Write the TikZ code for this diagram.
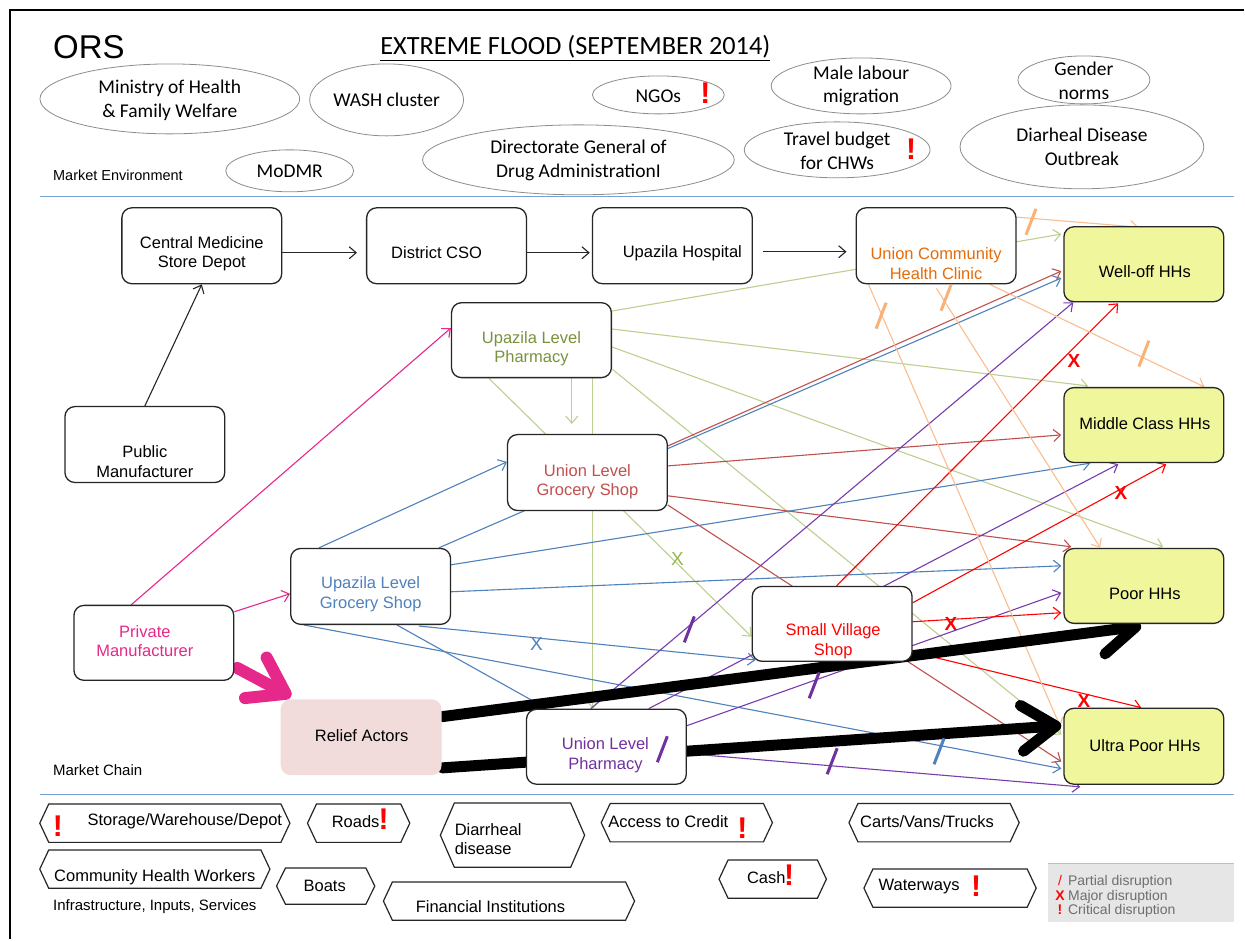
\documentclass[tikz,border=0pt]{standalone}
\usepackage{fontspec}
\setmainfont{Liberation Sans}
\newfontfamily\calfont{Carlito}
\usetikzlibrary{arrows.meta,shapes.geometric,calc}

\definecolor{pinkc}{RGB}{230,40,138}
\definecolor{bluec}{RGB}{79,129,189}
\definecolor{brickc}{RGB}{192,80,77}
\definecolor{greenl}{RGB}{188,208,145}
\definecolor{greent}{RGB}{119,147,60}
\definecolor{greenx}{RGB}{150,185,85}
\definecolor{orangel}{RGB}{250,190,145}
\definecolor{oranget}{RGB}{228,108,10}
\definecolor{orangem}{RGB}{248,178,120}
\definecolor{purplel}{RGB}{120,60,175}
\definecolor{purplet}{RGB}{112,48,160}
\definecolor{redc}{RGB}{255,0,0}
\definecolor{hhfill}{RGB}{239,246,155}
\definecolor{relieffill}{RGB}{242,220,219}
\definecolor{sepblue}{RGB}{120,160,210}
\definecolor{ellgray}{RGB}{140,140,140}
\definecolor{leggray}{RGB}{230,230,230}
\definecolor{legtext}{RGB}{110,110,110}

\pgfdeclarelayer{paper}
\pgfdeclarelayer{links}
\pgfsetlayers{paper,links,main}

% hexagonal frame around an invisible rectangular node
\newcommand\chevframe[2]{%
  \draw[line width=1.2pt, draw=black!85]
    (#1.west) -- ($(#1.north west)+(#2,0)$) -- ($(#1.north east)+(-#2,0)$)
    -- (#1.east) -- ($(#1.south east)+(-#2,0)$) -- ($(#1.south west)+(#2,0)$) -- cycle;}
% partial disruption stroke
\newcommand\slashmark[2]{%
  \draw[#1, line width=3pt] ($(#2)+(-5,13)$) -- ($(#2)+(5,-13)$);}

\begin{document}
\begin{tikzpicture}[x=1pt,y=-1pt,
  box/.style={draw=black!85, line width=1.3pt, rounded corners=10pt, fill=white,
    minimum width=160pt, minimum height=76pt, inner sep=0pt},
  hh/.style={box, fill=hhfill},
  btxt/.style={font=\fontsize{16.5}{19.5}\selectfont, align=center, inner sep=0pt},
  env/.style={ellipse, draw=ellgray, line width=0.8pt, inner sep=0pt},
  etxt/.style={font=\calfont\fontsize{19.5}{24}\selectfont, align=center, inner sep=0pt},
  frame/.style={inner sep=0pt, minimum height=38pt},
  conn/.style={line width=1.1pt, -{Straight Barb[length=7pt,width=12pt]}},
  bigarrow/.style={line width=11pt, line cap=round,
    -{Straight Barb[length=34pt,width=46pt,round]}},
  bang/.style={font=\bfseries\fontsize{30}{30}\selectfont, text=redc, inner sep=0pt},
  xmark/.style={font=\bfseries\fontsize{19}{19}\selectfont, inner sep=0pt},
  legtxt/.style={font=\fontsize{14}{14}\selectfont, text=legtext, inner sep=0pt, anchor=base west},
  legsym/.style={font=\bfseries\fontsize{14}{14}\selectfont, text=redc, inner sep=0pt, anchor=base}
]
\begin{pgfonlayer}{paper}
\useasboundingbox[fill=white] (0,0) rectangle (1245,940);
\end{pgfonlayer}

% outer frame and section separators
\draw[line width=2.5pt] (10,940) -- (10,10) -- (1245,10);
\draw[sepblue, line width=1.2pt] (40,197) -- (1235,197);
\draw[sepblue, line width=1.2pt] (40,795) -- (1235,795);

% titles
\node[anchor=base west, inner sep=0pt, font=\fontsize{33}{36}\selectfont] (ors) at (53,59) {ORS};
\node[anchor=base, inner sep=0pt, font=\calfont\fontsize{26.3}{30}\selectfont] (title) at (576,55)
  {\underline{EXTREME FLOOD (SEPTEMBER 2014)}};

% ---------------- market environment ----------------
\node[env, minimum width=260pt, minimum height=70pt] (moh) at (170,99) {};
\node[etxt] (t-moh) at (170,100) {Ministry of Health\\\& Family Welfare};
\node[env, minimum width=154pt, minimum height=72pt] (wash) at (387,100) {};
\node[etxt] (t-wash) at (387,100) {WASH cluster};
\node[env, minimum width=132pt, minimum height=38pt] (ngo) at (659,95) {};
\node[etxt] (t-ngo) at (659,96) {NGOs};
\node[bang] (b-ngo) at (706,93) {!};
\node[env, minimum width=180pt, minimum height=56pt] (male) at (862,86) {};
\node[etxt] (t-male) at (862,86) {Male labour\\migration};
\node[env, minimum width=132pt, minimum height=48pt] (gender) at (1085,80) {};
\node[etxt] (t-gender) at (1085,81) {Gender\\norms};
\node[env, minimum width=128pt, minimum height=42pt] (modmr) at (290,171) {};
\node[etxt] (t-modmr) at (290,171) {MoDMR};
\node[env, minimum width=312pt, minimum height=70pt] (dgda) at (579,160) {};
\node[etxt] (t-dgda) at (579,161) {Directorate General of\\Drug AdministrationI};
\node[env, minimum width=186pt, minimum height=56pt] (travel) at (838,150) {};
\node[etxt] (t-travel) at (838,151) {Travel budget\\for CHWs};
\node[bang] (b-travel) at (912,149) {!};
\node[env, minimum width=244pt, minimum height=84pt] (ddo) at (1083,147) {};
\node[etxt] (t-ddo) at (1083,147) {Diarheal Disease\\Outbreak};
\node[anchor=base west, inner sep=0pt, font=\fontsize{14.5}{16}\selectfont] (menv) at (53,181) {Market Environment};

% ---------------- market chain boxes ----------------
\node[box] (cmsd) at (202,246) {};
\node[box] (dcso) at (447,246) {};
\node[box] (uh) at (673,246) {};
\node[box] (uchc) at (937,246) {};
\node[box, minimum height=75pt] (ulp) at (532,340.5) {};
\node[box] (pubm) at (145,445) {};
\node[box] (ulg) at (588,473) {};
\node[box] (upg) at (371,587) {};
\node[box, minimum height=75pt] (pm) at (154,643.5) {};
\node[box, minimum height=75pt] (svs) at (833,624.5) {};
\node[box, draw=none, fill=relieffill, minimum width=161pt] (ra) at (361.5,738) {};
\node[box, minimum height=75pt] (ulph) at (607,747.5) {};
\node[hh, minimum height=75pt] (wo) at (1145,264.5) {};
\node[hh, minimum height=75pt] (mc) at (1145,425.5) {};
\node[hh, minimum height=75pt] (poor) at (1145,586.5) {};
\node[hh] (up) at (1145,747) {};

\node[btxt] (t-cmsd) at (202,254) {Central Medicine\\Store Depot};
\node[btxt] (t-dcso) at (437,253) {District CSO};
\node[btxt] (t-uh) at (683,253) {Upazila Hospital};
\node[btxt, text=oranget] (t-uchc) at (937,264) {Union Community\\Health Clinic};
\node[btxt, text=greent] (t-ulp) at (532,349) {Upazila Level\\Pharmacy};
\node[btxt] (t-pubm) at (145,462) {Public\\Manufacturer};
\node[btxt, text=brickc] (t-ulg) at (588,482) {Union Level\\Grocery Shop};
\node[btxt, text=bluec] (t-upg) at (371,595) {Upazila Level\\Grocery Shop};
\node[btxt, text=pinkc] (t-pm) at (145,642) {Private\\Manufacturer};
\node[btxt, text=redc] (t-svs) at (834,642) {Small Village\\Shop};
\node[btxt] (t-ra) at (362,736) {Relief Actors};
\node[btxt, text=purplet] (t-ulph) at (606,756) {Union Level\\Pharmacy};
\node[btxt] (t-wo) at (1146,272) {Well-off HHs};
\node[btxt] (t-mc) at (1146,424) {Middle Class HHs};
\node[btxt] (t-poor) at (1146,594) {Poor HHs};
\node[btxt] (t-up) at (1146,746) {Ultra Poor HHs};
\node[anchor=base west, inner sep=0pt, font=\fontsize{15}{16}\selectfont] (mchain) at (53,776) {Market Chain};

% ---------------- connectors (under the boxes) ----------------
\begin{pgfonlayer}{links}
% public supply chain
\draw[conn, black!85] ($(cmsd.east)+(0,7)$) -- ($(dcso.west)+(-9,7)$);
\draw[conn, black!85] ($(dcso.east)+(0,7)$) -- ($(uh.west)+(-2,7)$);
\draw[conn, black!85] ($(uh.east)+(10,6)$) -- ($(uchc.west)+(-9,6)$);
\draw[conn, black!85] (pubm.north) -- (cmsd.south);
% private manufacturer
\draw[conn, pinkc] ($(pm.north west)+(58,0)$) -- ($(ulp.north west)+(0,26)$);
\draw[conn, pinkc] ($(pm.north east)+(0,7)$) -- ($(upg.north west)+(0,46)$);
% upazila level pharmacy
\draw[conn, greenl] ($(ulp.north east)+(0,9)$) -- ($(wo.north west)+(-2,8)$);
\draw[conn, greenl] ($(ulp.north east)+(0,27)$) -- ($(mc.north west)+(25,-1)$);
\draw[conn, greenl] ($(ulp.north east)+(0,45)$) -- ($(poor.north west)+(100,-1)$);
\draw[conn, greenl] ($(ulp.north east)+(0,67)$) -- ($(up.north west)+(-2,27)$);
\draw[conn, greenl] ($(ulp.south west)+(121,0)$) -- ($(ulg.north west)+(65,-10)$);
\draw[conn, greenl] ($(ulp.south west)+(142,0)$) -- ($(ulph.north west)+(67,0)$);
\draw[conn, greenl] ($(ulp.south west)+(38,0)$) -- ($(svs.north west)+(0,51)$);
% union level grocery shop
\draw[conn, brickc] ($(ulg.north east)+(0,12)$) -- ($(wo.north west)+(-2,45)$);
\draw[conn, brickc] ($(ulg.north east)+(0,32)$) -- ($(mc.north west)+(-2,48)$);
\draw[conn, brickc] ($(ulg.north east)+(0,62)$) -- ($(poor.north west)+(8,-1)$);
\draw[conn, brickc] ($(ulg.south east)+(0,-6)$) -- ($(up.north west)+(-2,54)$);
% upazila level grocery shop
\draw[conn, bluec] ($(upg.north west)+(29,0)$) -- ($(ulg.north west)+(0,28)$);
\draw[conn, bluec] ($(upg.north west)+(149,0)$) -- ($(wo.north west)+(-2,52)$);
\draw[conn, bluec] ($(upg.north east)+(0,17)$) -- ($(mc.south west)+(27,0)$);
\draw[conn, bluec] ($(upg.north east)+(0,44)$) -- ($(poor.north west)+(-2,18)$);
\draw[conn, bluec] ($(upg.south west)+(107,0)$) -- ($(ulph.north west)+(21,0)$);
\draw[conn, bluec] ($(upg.south west)+(129,1)$) -- ($(svs.south west)+(4,-2)$);
\draw[conn, bluec] ($(upg.south west)+(14,0)$) -- ($(up.north west)+(-2,61)$);
% union level pharmacy
\draw[conn, purplel] ($(ulph.north west)+(65,0)$) -- ($(wo.south west)+(10,0)$);
\draw[conn, purplel] ($(ulph.north west)+(123,0)$) -- ($(mc.south west)+(55,1)$);
\draw[conn, purplel] ($(ulph.north east)+(0,17)$) -- ($(poor.north west)+(-2,45)$);
\draw[conn, purplel] ($(ulph.north east)+(0,45)$) -- ($(up.south west)+(17,2)$);
% small village shop
\draw[conn, redc] ($(svs.north west)+(85,0)$) -- ($(wo.south west)+(55,1)$);
\draw[conn, redc] ($(svs.north east)+(0,17)$) -- ($(mc.south west)+(103,1)$);
\draw[conn, redc] ($(svs.north east)+(0,36)$) -- ($(poor.north west)+(-2,65)$);
\draw[conn, redc] ($(svs.south east)+(0,-10)$) -- ($(up.north west)+(78,0)$);
% union community health clinic
\draw[conn, orangel] ($(uchc.north east)+(0,10)$) -- ($(wo.north west)+(75,1)$);
\draw[conn, orangel] ($(uchc.south east)+(-27,0)$) -- ($(mc.north east)+(-20,0)$);
\draw[conn, orangel] ($(uchc.south west)+(13,0)$) -- ($(up.north west)+(-3,19)$);
\draw[conn, orangel] ($(uchc.south west)+(81,4)$) -- ($(poor.north west)+(37,0)$);
% relief flows
\draw[bigarrow, pinkc, line width=12pt] ($(pm.south east)+(3,-13)$) -- ($(ra.north west)+(11,-2)$);
\draw[bigarrow, black] ($(ra.north east)+(0,18)$) -- ($(poor.south west)+(78,2)$);
\draw[bigarrow, black] ($(ra.south east)+(0,-8)$) -- ($(up.north west)+(-2,18)$);
\end{pgfonlayer}

% ---------------- disruption marks ----------------
\slashmark{orangem}{1032,222}
\slashmark{orangem}{1145,354}
\slashmark{orangem}{882,316}
\slashmark{orangem}{947,298}
\slashmark{purplet}{690,630}
\slashmark{purplet}{815,686}
\slashmark{purplet}{833,762}
\slashmark{purplet}{663,750}
\slashmark{bluec}{940,752}
\node[xmark, text=redc] (x-wo) at (1075,361) {X};
\node[xmark, text=redc] (x-mc) at (1122,493) {X};
\node[xmark, text=redc] (x-poor) at (952,625) {X};
\node[xmark, text=redc] (x-up) at (1085,702) {X};
\node[xmark, text=greenx, font=\fontsize{19}{19}\selectfont] (x-svs) at (678,560) {X};
\node[xmark, text=bluec, font=\fontsize{19}{19}\selectfont] (x-upg) at (537,645) {X};

% ---------------- infrastructure, inputs, services ----------------
\node[frame, minimum width=250pt] (sto) at (165,824) {};
\chevframe{sto}{9}
\node[bang] (b-sto) at (58,827) {!};
\node[btxt] (t-sto) at (185,822) {Storage/Warehouse/Depot};
\node[frame, minimum width=102pt] (roads) at (359,824) {};
\chevframe{roads}{9}
\node[btxt] (t-roads) at (356,822) {Roads};
\node[bang] (b-roads) at (384,820) {!};
\node[frame, minimum width=144pt, minimum height=64pt] (diar) at (513,836) {};
\chevframe{diar}{14}
\node[btxt, align=left, anchor=west] (t-diar) at (455,840) {Diarrheal\\disease};
\node[frame, minimum width=171pt] (credit) at (687.5,823.5) {};
\chevframe{credit}{9}
\node[btxt] (t-credit) at (669,822) {Access to Credit};
\node[bang] (b-credit) at (743,829) {!};
\node[frame, minimum width=170pt] (carts) at (935,823.5) {};
\chevframe{carts}{9}
\node[btxt] (t-carts) at (928,822) {Carts/Vans/Trucks};
\node[frame, minimum width=230pt] (chw) at (155,870) {};
\chevframe{chw}{9}
\node[btxt] (t-chw) at (155,878) {Community Health Workers};
\node[anchor=base, inner sep=0pt, font=\fontsize{15}{16}\selectfont] (iis) at (155,911) {Infrastructure, Inputs, Services};
\node[frame, minimum width=98pt, minimum height=36pt] (boats) at (326,887) {};
\chevframe{boats}{9}
\node[btxt] (t-boats) at (325,887) {Boats};
\node[frame, minimum width=251pt] (fin) at (509.5,902) {};
\chevframe{fin}{9}
\node[btxt] (t-fin) at (491,908) {Financial Institutions};
\node[frame, minimum width=107pt] (cash) at (773.5,880) {};
\chevframe{cash}{9}
\node[btxt] (t-cash) at (767,878) {Cash};
\node[bang] (b-cash) at (790,876) {!};
\node[frame, minimum width=172pt] (water) at (951,889) {};
\chevframe{water}{9}
\node[btxt] (t-water) at (920,887) {Waterways};
\node[bang] (b-water) at (977,887) {!};

% ---------------- legend ----------------
\node[fill=leggray, inner sep=0pt, minimum width=186pt, minimum height=58pt] (legend) at (1142,894) {};
\draw[black!25, line width=1pt] (legend.north west) -- (legend.north east);
\node[legsym, font=\fontsize{14}{14}\selectfont] (l-p) at (1061,886) {/};
\node[legtxt] (l-pt) at (1069,886) {Partial disruption};
\node[legsym] (l-m) at (1061,901) {X};
\node[legtxt] (l-mt) at (1069,901) {Major disruption};
\node[legsym] (l-c) at (1061,915) {!};
\node[legtxt] (l-ct) at (1069,915) {Critical disruption};
\end{tikzpicture}
\end{document}
